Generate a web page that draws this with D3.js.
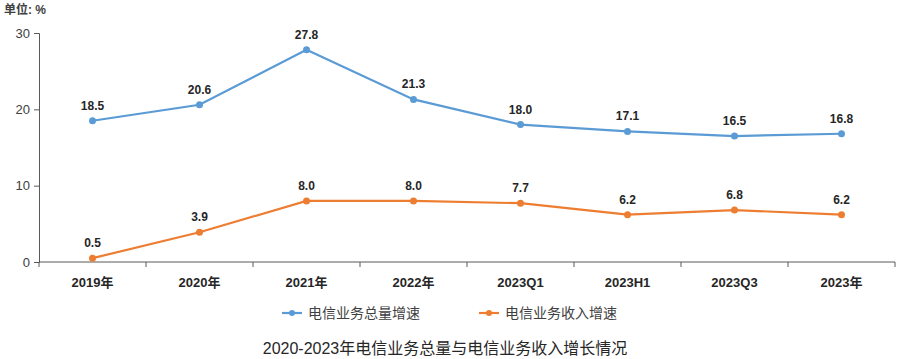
<!DOCTYPE html>
<html>
<head>
<meta charset="utf-8">
<script src="https://cdn.jsdelivr.net/npm/d3@7"></script>
<style>
  body { margin: 0; background: #fff; }
  text { font-family: "Liberation Sans", "Noto Sans CJK SC", sans-serif; }
</style>
</head>
<body>
<script>
var categories = ["2019年", "2020年", "2021年", "2022年", "2023Q1", "2023H1", "2023Q3", "2023年"];
var volumeGrowth = [18.5, 20.6, 27.8, 21.3, 18.0, 17.1, 16.5, 16.8];
var revenueGrowth = [0.5, 3.9, 8.0, 8.0, 7.7, 6.2, 6.8, 6.2];
var yTicks = [0, 10, 20, 30];
var seriesNames = ["电信业务总量增速", "电信业务收入增速"];

var w = 900, h = 359;
var plotLeft = 39, plotRight = 895, plotTop = 33, plotBottom = 262;
var blue = "#5b9bd5", orange = "#ed7d31";

var svg = d3.select("body").append("svg")
    .attr("width", w).attr("height", h);

var x = d3.scaleBand().domain(categories).range([plotLeft, plotRight]);
var y = d3.scaleLinear().domain([0, 30]).range([plotBottom, plotTop]);

// y axis
var yAxis = svg.append("g")
    .attr("transform", "translate(" + plotLeft + ",0)")
    .call(d3.axisLeft(y).tickValues(yTicks).tickSize(5).tickPadding(4));
yAxis.select(".domain").attr("stroke", "#595959");
yAxis.selectAll("line").attr("stroke", "#595959");
yAxis.selectAll("text").attr("font-size", 13).attr("fill", "#404040")
    .attr("font-family", "Liberation Sans, sans-serif");

// x axis, ticks between categories
var xAxis = svg.append("g")
    .attr("transform", "translate(0," + plotBottom + ")");
xAxis.append("line").attr("x1", plotLeft).attr("x2", plotRight)
    .attr("stroke", "#595959");
xAxis.selectAll("line.tk")
    .data(categories.concat(["end"]))
    .enter().append("line").attr("class", "tk")
    .attr("x1", function(d, i) { return plotLeft + i * x.step(); })
    .attr("x2", function(d, i) { return plotLeft + i * x.step(); })
    .attr("y1", 0).attr("y2", 5)
    .attr("stroke", "#595959");
xAxis.selectAll("text.lbl")
    .data(categories)
    .enter().append("text").attr("class", "lbl")
    .attr("x", function(d) { return x(d) + x.bandwidth() / 2; })
    .attr("y", 25)
    .attr("text-anchor", "middle")
    .attr("font-size", 13).attr("font-weight", "bold").attr("fill", "#262626")
    .text(function(d) { return d; });

// unit label
svg.append("text").attr("x", 4).attr("y", 14)
    .attr("font-size", 12).attr("font-weight", "bold").attr("fill", "#404040")
    .text("单位: %");

function drawSeries(values, color) {
    var g = svg.append("g");
    var line = d3.line()
        .x(function(d, i) { return x(categories[i]) + x.bandwidth() / 2; })
        .y(function(d) { return y(d); });
    g.append("path").datum(values)
        .attr("d", line).attr("fill", "none")
        .attr("stroke", color).attr("stroke-width", 2.2);
    g.selectAll("circle").data(values).enter().append("circle")
        .attr("cx", function(d, i) { return x(categories[i]) + x.bandwidth() / 2; })
        .attr("cy", function(d) { return y(d); })
        .attr("r", 3.5).attr("fill", color);
    g.selectAll("text").data(values).enter().append("text")
        .attr("x", function(d, i) { return x(categories[i]) + x.bandwidth() / 2; })
        .attr("y", function(d) { return y(d) - 11; })
        .attr("text-anchor", "middle")
        .attr("font-size", 12).attr("font-weight", "bold").attr("fill", "#262626")
        .text(function(d) { return d.toFixed(1); });
}
drawSeries(volumeGrowth, blue);
drawSeries(revenueGrowth, orange);

// legend
var legendX = [282, 479];
[blue, orange].forEach(function(c, i) {
    var g = svg.append("g").attr("transform", "translate(" + legendX[i] + ",313)");
    g.append("line").attr("x1", 0).attr("x2", 20).attr("stroke", c).attr("stroke-width", 2.2);
    g.append("circle").attr("cx", 10).attr("r", 3).attr("fill", c);
    g.append("text").attr("x", 26).attr("y", 5)
        .attr("font-size", 14).attr("fill", "#404040")
        .text(seriesNames[i]);
});

// title
svg.append("text").attr("x", 445).attr("y", 354)
    .attr("text-anchor", "middle")
    .attr("font-size", 16).attr("fill", "#262626")
    .text("2020-2023年电信业务总量与电信业务收入增长情况");
</script>
</body>
</html>
